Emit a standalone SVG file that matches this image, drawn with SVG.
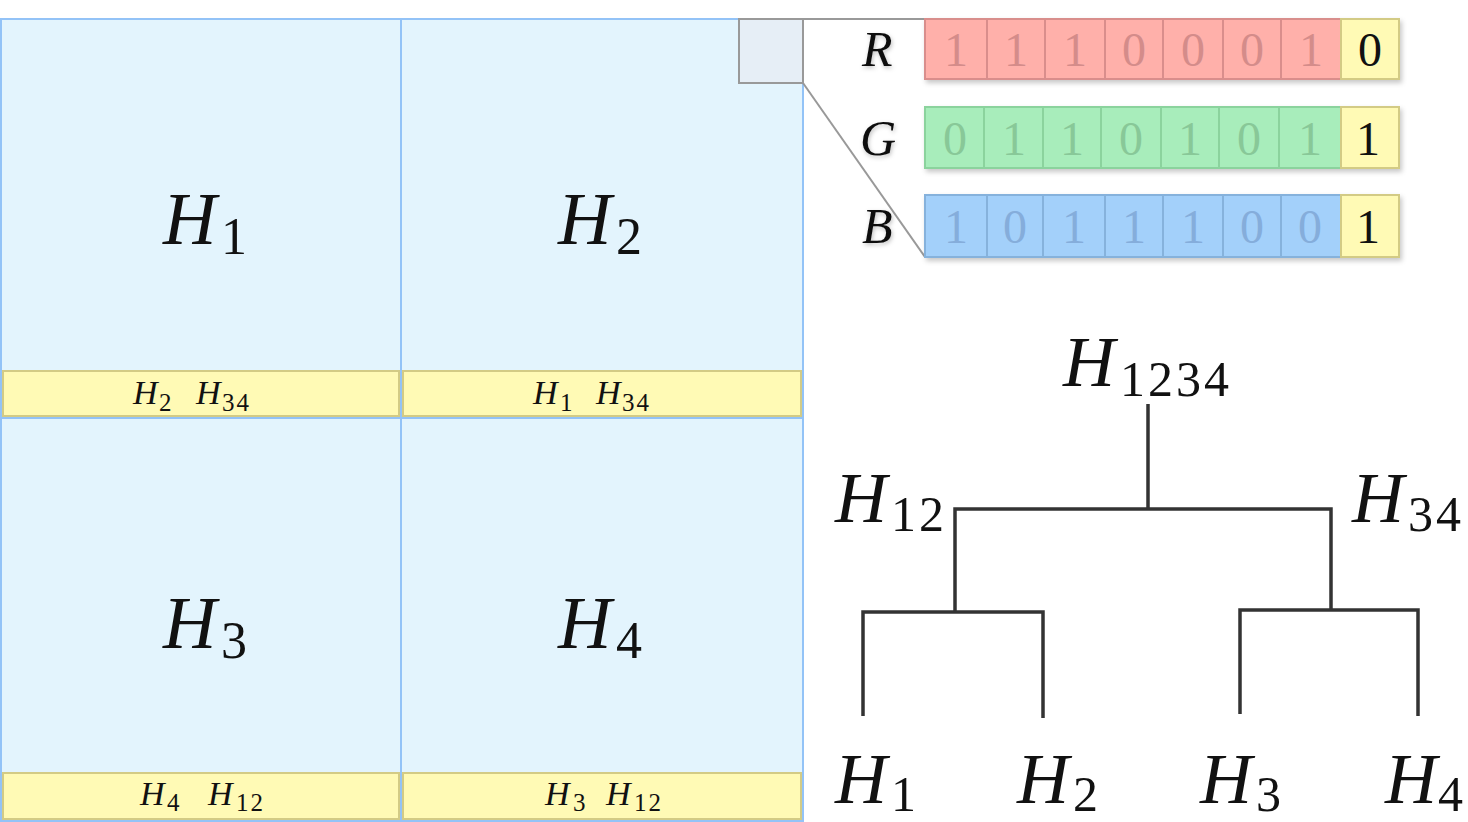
<svg xmlns="http://www.w3.org/2000/svg" width="1468" height="822" viewBox="0 0 1468 822">
<defs>
<filter id="sh" x="-5%" y="-20%" width="110%" height="160%"><feDropShadow dx="2" dy="3" stdDeviation="2.5" flood-color="#000" flood-opacity="0.22"/></filter>
<filter id="tsh" x="-20%" y="-20%" width="140%" height="140%"><feDropShadow dx="1" dy="2" stdDeviation="2" flood-color="#000" flood-opacity="0.25"/></filter>
<style>
.cell{fill:#e3f4fd;stroke:#93c3f7;stroke-width:2}
.bar{fill:#fffab5;stroke:#d3cb85;stroke-width:2}
.t{fill:#111}
.it{font-style:italic}
.red{fill:#ffb0aa;stroke:#d98e8c;stroke-width:2}
.grn{fill:#a8edbb;stroke:#8bd39d;stroke-width:2}
.blu{fill:#a3d0fa;stroke:#86b2dc;stroke-width:2}
.yel{fill:#fffab5;stroke:#d3cb85;stroke-width:2}
.dr{fill:#d48c8a}
.dg{fill:#88c898}
.db{fill:#85addb}
.dy{fill:#111}
.dig{font-size:48px;text-anchor:middle}
.tree{fill:none;stroke:#333;stroke-width:3.5}
.zoom{fill:#e6eef6;stroke:#999;stroke-width:2}
.zl{stroke:#999;stroke-width:2;fill:none}
</style>
</defs>
<rect width="1468" height="822" fill="#fff"/>

<g id="grid" font-family="Liberation Serif">
<g id="cell1"><rect class="cell" x="1" y="19" width="400" height="399"/>
<rect class="bar" x="3" y="371" width="396" height="45"/>
<text class="t" font-family="Liberation Serif" y="244"><tspan class="it" x="163" font-size="74">H</tspan><tspan x="221" y="254" font-size="52">1</tspan></text>
<text class="t" font-family="Liberation Serif"><tspan class="it" x="133" y="404" font-size="34">H</tspan><tspan x="159" y="411" font-size="25">2</tspan><tspan class="it" x="196" y="404" font-size="34">H</tspan><tspan x="222" y="411" font-size="25" letter-spacing="2">34</tspan></text>
</g>
<g id="cell2"><rect class="cell" x="401" y="19" width="402" height="399"/>
<rect class="bar" x="403" y="371" width="398" height="45"/>
<text class="t" font-family="Liberation Serif" y="244"><tspan class="it" x="558" font-size="74">H</tspan><tspan x="616" y="254" font-size="52">2</tspan></text>
<text class="t" font-family="Liberation Serif"><tspan class="it" x="533" y="404" font-size="34">H</tspan><tspan x="560" y="411" font-size="25">1</tspan><tspan class="it" x="596" y="404" font-size="34">H</tspan><tspan x="622" y="411" font-size="25" letter-spacing="2">34</tspan></text>
</g>
<g id="cell3"><rect class="cell" x="1" y="418" width="400" height="403"/>
<rect class="bar" x="3" y="773" width="396" height="46"/>
<text class="t" font-family="Liberation Serif" y="648"><tspan class="it" x="163" font-size="74">H</tspan><tspan x="221" y="658" font-size="52">3</tspan></text>
<text class="t" font-family="Liberation Serif"><tspan class="it" x="140" y="805" font-size="34">H</tspan><tspan x="167" y="811" font-size="25">4</tspan><tspan class="it" x="208" y="805" font-size="34">H</tspan><tspan x="236" y="811" font-size="25" letter-spacing="2">12</tspan></text>
</g>
<g id="cell4"><rect class="cell" x="401" y="418" width="402" height="403"/>
<rect class="bar" x="403" y="773" width="398" height="46"/>
<text class="t" font-family="Liberation Serif" y="648"><tspan class="it" x="558" font-size="74">H</tspan><tspan x="616" y="658" font-size="52">4</tspan></text>
<text class="t" font-family="Liberation Serif"><tspan class="it" x="545" y="805" font-size="34">H</tspan><tspan x="573" y="811" font-size="25">3</tspan><tspan class="it" x="606" y="805" font-size="34">H</tspan><tspan x="634" y="811" font-size="25" letter-spacing="2">12</tspan></text>
</g>
</g>

<g id="zoombox">
<rect class="zoom" x="739" y="19" width="64" height="64"/>
</g>

<g id="connectors">
<line class="zl" x1="803" y1="19" x2="925" y2="19"/>
<line class="zl" x1="803" y1="83" x2="925" y2="257"/>
<path class="tree" d="M1148 404 V509 M955 611 V509 H1331 V609 M863 716 V612 H1043 V718 M955 612 V611 M1240 714 V610 H1418 V716 M1331 610 V609"/>
</g>

<g id="rowR" font-family="Liberation Serif">
<text class="t it" font-family="Liberation Serif" x="862" y="66" font-size="50" filter="url(#tsh)">R</text>
<g filter="url(#sh)">
<rect class="red" x="925" y="19" width="416" height="60"/>
<rect class="yel" x="1341" y="19" width="58" height="60"/>
</g>
<path stroke="#d98e8c" stroke-width="2" d="M987 19V79M1045 19V79M1105 19V79M1163 19V79M1223 19V79M1281 19V79"/>
<g class="dig dr" font-family="Liberation Serif"><text x="956" y="66">1</text><text x="1016" y="66">1</text><text x="1075" y="66">1</text><text x="1134" y="66">0</text><text x="1193" y="66">0</text><text x="1252" y="66">0</text><text x="1311" y="66">1</text></g>
<text class="dig dy" font-family="Liberation Serif" x="1370" y="66">0</text>
</g>

<g id="rowG" font-family="Liberation Serif">
<text class="t it" font-family="Liberation Serif" x="860" y="155" font-size="50" filter="url(#tsh)">G</text>
<g filter="url(#sh)">
<rect class="grn" x="925" y="107" width="416" height="61"/>
<rect class="yel" x="1341" y="107" width="58" height="61"/>
</g>
<path stroke="#8bd39d" stroke-width="2" d="M984 107V168M1043 107V168M1101 107V168M1161 107V168M1219 107V168M1279 107V168"/>
<g class="dig dg" font-family="Liberation Serif"><text x="955" y="155">0</text><text x="1014" y="155">1</text><text x="1072" y="155">1</text><text x="1131" y="155">0</text><text x="1190" y="155">1</text><text x="1249" y="155">0</text><text x="1310" y="155">1</text></g>
<text class="dig dy" font-family="Liberation Serif" x="1368" y="155">1</text>
</g>

<g id="rowB" font-family="Liberation Serif">
<text class="t it" font-family="Liberation Serif" x="862" y="243" font-size="50" filter="url(#tsh)">B</text>
<g filter="url(#sh)">
<rect class="blu" x="925" y="195" width="416" height="62"/>
<rect class="yel" x="1341" y="195" width="58" height="62"/>
</g>
<path stroke="#86b2dc" stroke-width="2" d="M987 195V257M1043 195V257M1105 195V257M1163 195V257M1223 195V257M1281 195V257"/>
<g class="dig db" font-family="Liberation Serif"><text x="956" y="243">1</text><text x="1015" y="243">0</text><text x="1074" y="243">1</text><text x="1134" y="243">1</text><text x="1193" y="243">1</text><text x="1252" y="243">0</text><text x="1310" y="243">0</text></g>
<text class="dig dy" font-family="Liberation Serif" x="1368" y="243">1</text>
</g>

<g id="tree-labels" font-family="Liberation Serif">
<text class="t" font-family="Liberation Serif"><tspan class="it" x="1063" y="386" font-size="72">H</tspan><tspan x="1120" y="396" font-size="50" letter-spacing="3">1234</tspan></text>
<text class="t" font-family="Liberation Serif"><tspan class="it" x="835" y="522" font-size="72">H</tspan><tspan x="891" y="531" font-size="50" letter-spacing="3">12</tspan></text>
<text class="t" font-family="Liberation Serif"><tspan class="it" x="1352" y="522" font-size="72">H</tspan><tspan x="1408" y="531" font-size="50" letter-spacing="3">34</tspan></text>
<text class="t" font-family="Liberation Serif"><tspan class="it" x="835" y="803" font-size="72">H</tspan><tspan x="891" y="811" font-size="50">1</tspan></text>
<text class="t" font-family="Liberation Serif"><tspan class="it" x="1017" y="803" font-size="72">H</tspan><tspan x="1073" y="811" font-size="50">2</tspan></text>
<text class="t" font-family="Liberation Serif"><tspan class="it" x="1200" y="803" font-size="72">H</tspan><tspan x="1256" y="811" font-size="50">3</tspan></text>
<text class="t" font-family="Liberation Serif"><tspan class="it" x="1385" y="803" font-size="72">H</tspan><tspan x="1438" y="811" font-size="50">4</tspan></text>
</g>
</svg>
